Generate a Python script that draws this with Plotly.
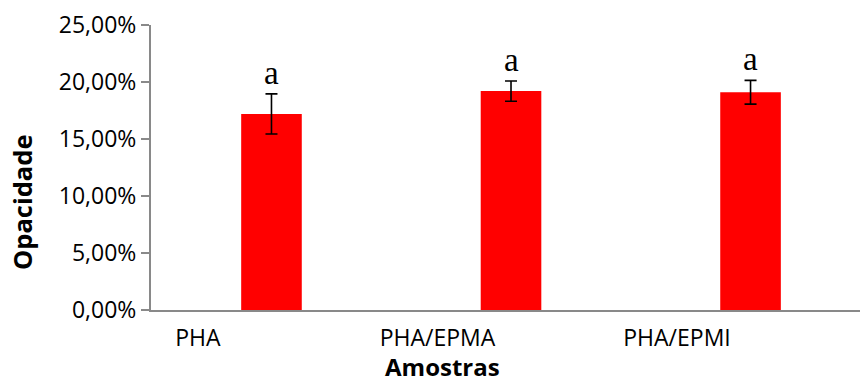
import plotly.graph_objects as go

# Opacity of the PHA films (mean ± standard deviation, as fractions)
samples = ["PHA", "PHA/EPMA", "PHA/EPMI"]
opacity = [0.172, 0.192, 0.191]
opacity_sd = [0.0176, 0.0089, 0.0104]
letters = ["a", "a", "a"]
y_ticks = [0.0, 0.05, 0.10, 0.15, 0.20, 0.25]

BAR_OFFSET = 0.307   # bars sit to the right of each category label
BAR_WIDTH = 0.253
label_pos = list(range(len(samples)))
bar_pos = [p + BAR_OFFSET for p in label_pos]

fig = go.Figure()
fig.add_trace(go.Bar(
    x=bar_pos,
    y=opacity,
    width=BAR_WIDTH,
    marker=dict(color="#ff0000", line=dict(width=0)),
    error_y=dict(type="data", array=opacity_sd, visible=True,
                 color="#000000", thickness=1.6, width=6),
    showlegend=False,
))

# significance letters above the error bars
for xb, v, sd, t in zip(bar_pos, opacity, opacity_sd, letters):
    fig.add_annotation(x=xb, y=v + sd, text=t, showarrow=False,
                       xanchor="center", yanchor="bottom", yshift=1,
                       font=dict(family="Liberation Serif", size=33, color="#000000"))

# axis titles
fig.add_annotation(xref="paper", yref="paper", x=0, y=0, xshift=-129, yshift=107,
                   text="<b>Opacidade</b>", textangle=-90, showarrow=False,
                   xanchor="center", yanchor="middle",
                   font=dict(family="Open Sans", size=25.5, color="#000000"))
fig.add_annotation(xref="paper", yref="paper", x=0, y=0, xshift=291, yshift=-56,
                   text="<b>Amostras</b>", showarrow=False,
                   xanchor="center", yanchor="middle",
                   font=dict(family="Open Sans", size=24, color="#000000"))

axis_color = "#898989"
fig.update_layout(
    width=861, height=382,
    margin=dict(l=151, r=1, t=25, b=72),
    paper_bgcolor="#ffffff", plot_bgcolor="#ffffff",
    separators=", ",
    font=dict(family="Open Sans", size=23, color="#000000"),
    xaxis=dict(
        range=[-0.196, 2.764],
        tickmode="array", tickvals=label_pos, ticktext=samples,
        showgrid=False, zeroline=False,
        showline=True, linecolor=axis_color, linewidth=2,
        ticks="", ticklabelstandoff=6,
    ),
    yaxis=dict(
        range=[0, 0.25],
        tickmode="array", tickvals=y_ticks, tickformat=".2%",
        showgrid=False, zeroline=False,
        showline=True, linecolor=axis_color, linewidth=2,
        ticks="outside", ticklen=8, tickwidth=2, tickcolor=axis_color,
        ticklabelstandoff=0,
    ),
)

fig.write_html("out.html")
